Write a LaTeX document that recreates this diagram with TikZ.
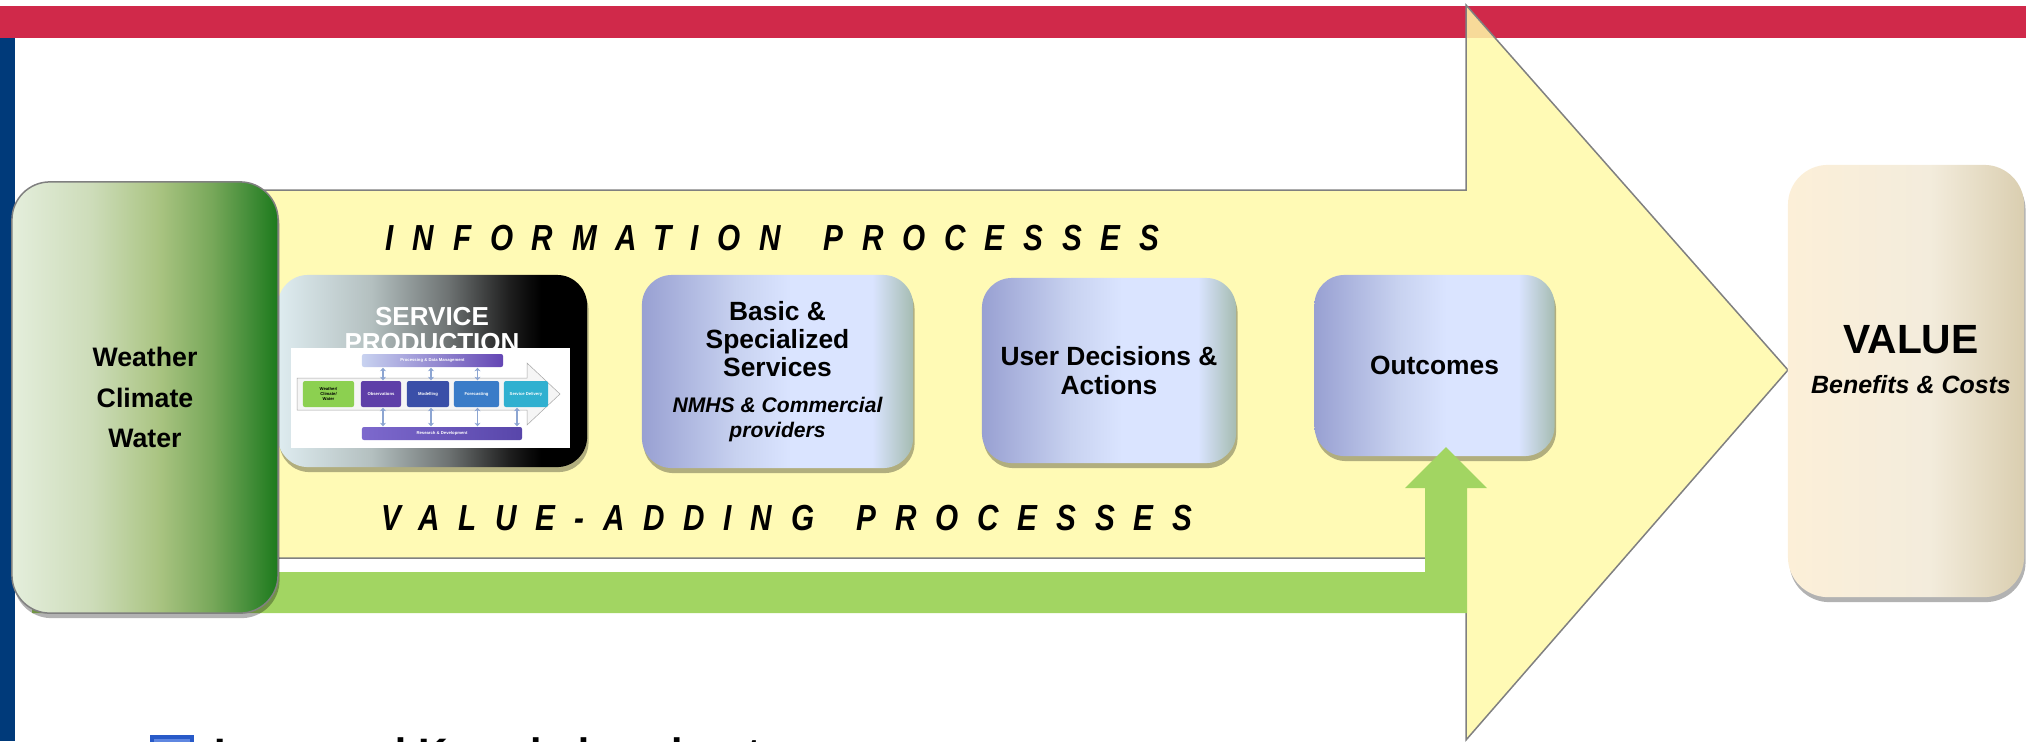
\documentclass[tikz,border=0pt]{standalone}
\usepackage{fontspec}
\setmainfont{Liberation Sans}
\newfontfamily\trackfont[FakeStretch=0.82,LetterSpace=52]{Liberation Sans}
\usetikzlibrary{shadows,arrows.meta,calc}

% ---------- colours ----------
\definecolor{bandred}{RGB}{208,41,74}
\definecolor{barblue}{RGB}{0,58,122}
\definecolor{arrowyellow}{RGB}{255,249,168}
\definecolor{arrowgray}{RGB}{128,128,128}
\definecolor{flowgreen}{RGB}{162,213,98}
\definecolor{bulletblue}{RGB}{40,90,200}
\definecolor{bulletin}{RGB}{95,135,225}

\definecolor{wA}{RGB}{228,238,220}
\definecolor{wB}{RGB}{205,220,185}
\definecolor{wC}{RGB}{170,196,130}
\definecolor{wD}{RGB}{120,168,90}
\definecolor{wE}{RGB}{65,140,55}
\definecolor{wF}{RGB}{28,122,28}

\definecolor{sA}{RGB}{222,236,240}
\definecolor{sB}{RGB}{180,192,192}
\definecolor{sC}{RGB}{110,115,115}
\definecolor{sD}{RGB}{30,30,30}
\definecolor{sE}{RGB}{0,0,0}

\definecolor{bA}{RGB}{152,160,210}
\definecolor{bB}{RGB}{200,210,240}
\definecolor{bC}{RGB}{218,228,255}
\definecolor{bD}{RGB}{165,188,178}

\definecolor{vA}{RGB}{252,239,216}
\definecolor{vB}{RGB}{243,236,220}
\definecolor{vC}{RGB}{218,206,176}

\definecolor{tbA}{RGB}{200,210,240}
\definecolor{tbB}{RGB}{100,70,180}
\definecolor{rbA}{RGB}{125,105,205}
\definecolor{rbB}{RGB}{88,70,170}
\definecolor{mgreen}{RGB}{140,208,80}
\definecolor{mobs}{RGB}{94,63,168}
\definecolor{mmod}{RGB}{58,79,168}
\definecolor{mfor}{RGB}{58,124,200}
\definecolor{mdel}{RGB}{48,176,208}
\definecolor{mdbl}{RGB}{140,165,210}

% ---------- shadings (bounding box maps to 25bp..75bp) ----------
\pgfdeclarehorizontalshading{weathershade}{100bp}{color(0bp)=(wA); color(25bp)=(wA); color(40bp)=(wB); color(52.5bp)=(wC); color(62.5bp)=(wD); color(70bp)=(wE); color(75bp)=(wF); color(100bp)=(wF)}
\pgfdeclarehorizontalshading{serviceshade}{100bp}{color(0bp)=(sA); color(25bp)=(sA); color(40bp)=(sB); color(52.5bp)=(sC); color(62.5bp)=(sD); color(67.5bp)=(sE); color(100bp)=(sE)}
\pgfdeclarehorizontalshading{blueshade}{100bp}{color(0bp)=(bA); color(25bp)=(bA); color(42.5bp)=(bB); color(52.5bp)=(bC); color(67.5bp)=(bC); color(75bp)=(bD); color(100bp)=(bD)}
\pgfdeclarehorizontalshading{valueshade}{100bp}{color(0bp)=(vA); color(25bp)=(vA); color(55bp)=(vB); color(75bp)=(vC); color(100bp)=(vC)}
\pgfdeclarehorizontalshading{topbarshade}{100bp}{color(0bp)=(tbA); color(25bp)=(tbA); color(75bp)=(tbB); color(100bp)=(tbB)}
\pgfdeclarehorizontalshading{resbarshade}{100bp}{color(0bp)=(rbA); color(25bp)=(rbA); color(75bp)=(rbB); color(100bp)=(rbB)}

% ---------- fonts ----------
\newcommand\bxfont{\fontsize{7.5pt}{8pt}\selectfont\bfseries}
\newcommand\wcwfont{\fontsize{7.6pt}{11.4pt}\selectfont\bfseries}
\newcommand\svfont{\fontsize{7.4pt}{7.4pt}\selectfont\bfseries}
\newcommand\subfont{\fontsize{6.0pt}{6.8pt}\selectfont\bfseries\itshape}
\newcommand\trkfont{\trackfont\fontsize{10.3pt}{12pt}\selectfont\bfseries\itshape}
\newcommand\minifont{\fontsize{1.2pt}{1.45pt}\selectfont\bfseries}
\newcommand\wordgap{\hspace{4.3pt}}

\tikzset{
  panel/.style={rounded corners=0.3cm, inner sep=0pt, align=center},
  shadowed/.style={drop shadow={shadow xshift=0.015cm, shadow yshift=-0.05cm, opacity=0.3, fill=black}},
  bluebox/.style={panel, shadowed, shading=blueshade, font=\bxfont},
  tracked/.style={inner sep=0pt, font=\trkfont},
  minibox/.style={inner sep=0pt, rounded corners=0.02cm, font=\minifont, text=white, align=center},
  dblarrow/.style={draw=mdbl, line width=0.018cm, {Stealth[length=0.035cm,width=0.06cm]}-{Stealth[length=0.035cm,width=0.06cm]}}
}

\begin{document}
\begin{tikzpicture}[x=0.01cm,y=-0.01cm]
\path[use as bounding box] (0,0) rectangle (2026,741);
\clip (0,0) rectangle (2026,741);

% page frame: red band and blue side bar
\fill[bandred] (0,6) rectangle (2026,38);
\fill[barblue] (0,38) rectangle (15,741);

% large process arrow
\draw[draw=arrowgray, line width=0.015cm, fill=arrowyellow, fill opacity=0.85]
  (100,190) -- (1466,190) -- (1466,5) -- (1788,370) -- (1466,740) -- (1466,558) -- (100,558) -- cycle;

% row labels
\node[tracked, anchor=west] (info) at (385,238) {INFORMATION\ \wordgap PROCESSES};
\node[tracked, anchor=west] (vadd) at (381,518) {VALUE-ADDING\ \wordgap PROCESSES};

% service production panel
\node[panel, shadowed, shading=serviceshade, minimum width=3.09cm, minimum height=1.92cm] (svc) at (432.5,371) {};
\node[anchor=north, font=\svfont, text=white, align=center, inner sep=0pt] (svctitle) at (432,307) {SERVICE\\PRODUCTION};
\node[fill=white, inner sep=0pt, minimum width=2.79cm, minimum height=1.00cm] (mini) at (430.5,398) {};

% service production chain (inset)
\draw[draw=gray!70, fill=gray!8, line width=0.005cm]
  (297,378) -- (527,378) -- (527,363) -- (560,394) -- (527,425) -- (527,410) -- (297,410) -- cycle;
\node[minibox, shading=topbarshade, minimum width=1.41cm, minimum height=0.13cm] (topbar) at (432.5,360.5) {Processing \& Data Management};
\node[minibox, shading=resbarshade, minimum width=1.60cm, minimum height=0.13cm] (resbar) at (442,433.5) {Research \& Development};
\node[minibox, fill=mgreen, text=black, minimum width=0.51cm, minimum height=0.26cm] (mwcw) at (328.5,394) {Weather/\\Climate/\\Water};
\node[minibox, fill=mobs, minimum width=0.40cm, minimum height=0.26cm] (mobsn) at (381,394) {Observations};
\node[minibox, fill=mmod, minimum width=0.42cm, minimum height=0.26cm] (mmodn) at (428,394) {Modelling};
\node[minibox, fill=mfor, minimum width=0.45cm, minimum height=0.26cm] (mforn) at (476.5,394) {Forecasting};
\node[minibox, fill=mdel, minimum width=0.44cm, minimum height=0.26cm] (mdeln) at (526,394) {Service Delivery};
\draw[dblarrow] ($(mobsn.north)+(2,0)$) -- ($(mobsn.north |- topbar.south)+(2,0)$);
\draw[dblarrow] ($(mmodn.north)+(3,0)$) -- ($(mmodn.north |- topbar.south)+(3,0)$);
\draw[dblarrow] ($(mforn.north)+(1,0)$) -- ($(mforn.north |- topbar.south)+(1,0)$);
\draw[dblarrow] ($(mobsn.south)+(2,0)$) -- ($(mobsn.south |- resbar.north)+(2,0)$);
\draw[dblarrow] ($(mmodn.south)+(3,0)$) -- ($(mmodn.south |- resbar.north)+(3,0)$);
\draw[dblarrow] ($(mforn.south)+(1,0)$) -- ($(mforn.south |- resbar.north)+(1,0)$);
\draw[dblarrow] ($(mdeln.south)+(-9,0)$) -- ($(mdeln.south |- resbar.north)+(-9,0)$);

% service stages
\node[bluebox, minimum width=2.71cm, minimum height=1.93cm] (basic) at (777.5,371.5)
  {Basic \&\\Specialized\\Services\\[2.3pt]{\subfont NMHS \& Commercial}\\[-1pt]{\subfont providers}};
\node[bluebox, minimum width=2.54cm, minimum height=1.85cm] (user) at (1109,370.5) {User Decisions \&\\Actions};
\node[bluebox, minimum width=2.40cm, minimum height=1.81cm] (outc) at (1434.5,365.5) {Outcomes};

% value-adding feedback arrow (green)
\coordinate (gstart) at (32,572);
\fill[flowgreen] (gstart) -- (1425,572) -- (1425,488) -- (1405,488) -- (1446,447) -- (1487,488) -- (1467,488) -- (1467,613) -- (32,613) -- cycle;

% source panel
\node[panel, rounded corners=0.38cm, shadowed, shading=weathershade, draw=arrowgray, line width=0.015cm,
      minimum width=2.66cm, minimum height=4.31cm, font=\wcwfont] (wcw) at (145,397.5) {Weather\\Climate\\Water};

% value panel
\node[panel, rounded corners=0.4cm, shadowed, shading=valueshade, minimum width=2.36cm, minimum height=4.32cm] (value) at (1906,381) {};
\node[inner sep=0pt, font=\fontsize{11.6pt}{13pt}\selectfont\bfseries] (valtitle) at (1911,340) {VALUE};
\node[inner sep=0pt, font=\fontsize{7.1pt}{8pt}\selectfont\bfseries\itshape] (valsub) at (1911,385) {Benefits \& Costs};

% bullet line at the foot
\node[draw=bulletblue, fill=bulletin, line width=0.04cm, inner sep=0pt, minimum width=0.40cm, minimum height=0.30cm, anchor=north west] (bullet) at (150,735) {};
\node[inner sep=0pt, anchor=base west, font=\fontsize{11.7pt}{13pt}\selectfont\bfseries] (foot) at (214,767) {Increased Knowledge about};
\end{tikzpicture}
\end{document}
